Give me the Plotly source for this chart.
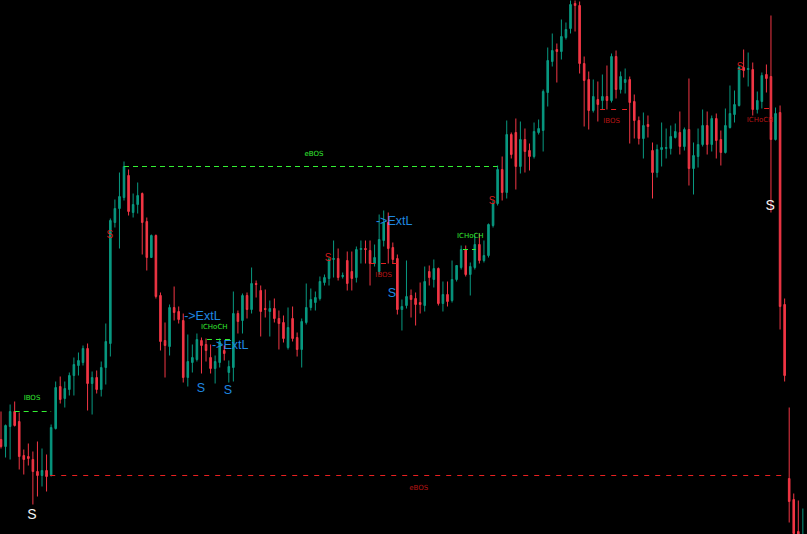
import plotly.graph_objects as go

# ---- candle data (index = bar number, prices in chart units) ----
opens = [95,88,108,123,113,79,78,75,63,59,64,59,106,148,136,145,159,169,172,186,
         151,157,145,167,191,312,326,337,359,322,330,341,313,277,299,239,194,188,227,223,
         214,157,172,175,194,190,177,166,172,184,162,167,221,214,239,225,251,244,226,223,
         226,216,212,187,216,197,185,212,227,232,236,252,256,275,276,258,274,263,257,285,
         286,284,271,263,294,312,287,276,225,229,239,236,232,229,263,255,266,231,240,234,
         255,267,285,260,267,290,274,279,309,331,365,342,400,402,368,395,384,378,402,404,
         442,473,485,483,497,506,531,529,471,455,424,435,434,438,434,478,445,452,455,433,
         414,396,410,384,362,385,386,386,397,402,388,405,366,378,390,409,390,416,395,382,
         407,420,429,467,465,465,425,433,460,458,395,422,230,56,35,3,-30]
highs = [123,110,130,133,122,85,91,83,93,86,80,110,153,158,153,162,177,182,189,191,
         163,164,173,211,316,335,362,373,365,341,352,342,317,300,300,242,212,230,248,228,
         221,200,190,201,197,196,190,179,196,189,174,243,224,241,242,267,254,249,245,234,
         236,224,219,227,228,202,216,251,246,243,258,260,277,294,286,262,283,283,288,294,
         294,294,290,320,324,322,292,280,235,274,245,242,252,268,269,275,267,253,253,274,
         269,289,289,272,299,301,294,311,334,369,378,414,402,416,413,406,391,412,415,445,
         487,501,491,515,512,534,534,533,478,463,455,453,460,469,481,484,463,466,458,440,
         418,422,419,392,390,412,406,409,411,423,407,456,392,406,425,423,419,421,404,426,
         449,444,469,485,482,472,443,462,470,519,427,429,236,127,41,34,26]
lows = [86,77,75,108,65,60,69,30,38,48,43,58,105,131,127,139,139,159,169,124,
        120,141,138,150,178,307,286,334,319,317,321,280,264,277,236,184,157,179,214,211,
        152,148,162,173,161,173,161,151,167,174,152,153,201,201,216,221,237,198,217,198,
        212,185,192,185,193,178,167,210,224,224,234,249,249,257,254,256,244,244,252,271,
        271,249,268,260,288,271,271,220,204,226,217,209,221,223,249,247,229,223,228,232,
        253,265,258,239,265,271,272,277,307,329,334,336,376,345,361,362,364,376,400,383,
        428,468,452,475,495,501,503,461,408,405,422,413,425,425,432,436,441,441,391,396,
        390,376,397,336,357,368,376,380,396,380,384,349,340,367,388,380,383,376,369,381,
        406,412,428,457,448,419,421,426,442,322,394,205,153,12,-5,-20,-35]
closes = [88,109,123,109,78,75,76,63,59,64,58,107,147,135,146,159,170,174,186,151,
          157,145,167,193,314,326,338,368,323,330,339,312,277,299,238,193,189,227,222,215,
          157,173,177,195,189,184,166,173,193,181,168,221,213,239,225,251,250,223,225,226,
          216,211,196,207,196,185,213,227,235,237,253,257,275,276,257,259,251,256,285,286,
          285,271,277,295,312,286,275,225,228,238,235,230,230,253,257,266,231,240,233,255,
          269,285,260,268,290,274,279,310,331,365,342,400,380,368,395,383,378,403,406,443,
          474,484,483,498,505,530,529,471,454,424,438,430,438,434,478,445,458,455,432,414,
          396,409,408,362,385,387,387,398,403,388,405,366,379,390,409,390,416,394,382,409,
          421,430,467,464,466,425,434,459,456,395,421,228,159,33,1,-11,-15]
bars = list(range(len(opens)))

# ---- structure levels (bar from, bar to, price) ----
green_lines = [(3, 11, 123), (27, 109, 368), (45.2, 50.7, 195), (101.4, 104.2, 285)]
red_lines = [(10.8, 172.5, 59), (81, 87, 271), (131.5, 137.4, 425), (167.5, 168.6, 426)]

green_labels = [("IBOS", 6.8, 136), ("eBOS", 68.7, 380), ("ICHoCH", 46.8, 207), ("ICHoCH", 103.0, 298)]
red_labels = [("eBOS", 91.7, 46), ("IBOS", 84.0, 259), ("IBOS", 134.0, 413), ("ICHoCH", 166.6, 414)]
extl_labels = [("->ExtL", 40.2, 218), ("->ExtL", 46.3, 189), ("->ExtL", 82.3, 313)]
blue_s = [(43.9, 146), (49.8, 144), (85.8, 241)]
white_s = [(6.8, 19), (168.8, 328)]
red_s = [(23.9, 299), (71.8, 276), (107.8, 333), (162.2, 467)]

TEAL = "#089981"
RED = "#f23645"

fig = go.Figure()

for x0, x1, p in green_lines:
    fig.add_trace(go.Scatter(x=[x0, x1], y=[p, p], mode="lines",
                             line=dict(color="#33f033", width=1, dash="5px,4px"),
                             hoverinfo="skip", showlegend=False))
for x0, x1, p in red_lines:
    fig.add_trace(go.Scatter(x=[x0, x1], y=[p, p], mode="lines",
                             line=dict(color="#e82020", width=1, dash="5px,6px"),
                             hoverinfo="skip", showlegend=False))

fig.add_trace(go.Scatter(x=[l[1] for l in green_labels], y=[l[2] for l in green_labels],
                         text=[l[0] for l in green_labels], mode="text", textposition="middle center",
                         textfont=dict(family="DejaVu Sans", size=7, color="#33e833"),
                         hoverinfo="skip", showlegend=False))
fig.add_trace(go.Scatter(x=[l[1] for l in red_labels], y=[l[2] for l in red_labels],
                         text=[l[0] for l in red_labels], mode="text", textposition="middle center",
                         textfont=dict(family="DejaVu Sans", size=7, color="#b81515"),
                         hoverinfo="skip", showlegend=False))
fig.add_trace(go.Scatter(x=[l[1] for l in extl_labels], y=[l[2] for l in extl_labels],
                         text=[l[0] for l in extl_labels], mode="text", textposition="middle right",
                         textfont=dict(family="Liberation Sans", size=12.5, color="#1f88e0"),
                         hoverinfo="skip", showlegend=False))
fig.add_trace(go.Scatter(x=[s[0] for s in blue_s], y=[s[1] for s in blue_s],
                         text=["S"] * len(blue_s), mode="text", textposition="middle center",
                         textfont=dict(family="Liberation Sans", size=12.5, color="#1f88e0"),
                         hoverinfo="skip", showlegend=False))
fig.add_trace(go.Scatter(x=[s[0] for s in white_s], y=[s[1] for s in white_s],
                         text=["S"] * len(white_s), mode="text", textposition="middle center",
                         textfont=dict(family="Liberation Sans", size=14, color="#f2f2f2"),
                         hoverinfo="skip", showlegend=False))
fig.add_trace(go.Scatter(x=[s[0] for s in red_s], y=[s[1] for s in red_s],
                         text=["S"] * len(red_s), mode="text", textposition="middle center",
                         textfont=dict(family="Liberation Sans", size=10, color="#d61c1c"),
                         hoverinfo="skip", showlegend=False))

fig.add_trace(go.Candlestick(
    x=bars, open=opens, high=highs, low=lows, close=closes,
    increasing=dict(line=dict(color=TEAL, width=1), fillcolor=TEAL),
    decreasing=dict(line=dict(color=RED, width=1), fillcolor=RED),
    whiskerwidth=0, showlegend=False))

fig.update_layout(
    width=807, height=534,
    margin=dict(l=0, r=0, t=0, b=0),
    paper_bgcolor="#000000", plot_bgcolor="#000000",
    boxgap=0.5,
    xaxis=dict(range=[-0.22, 176.91], visible=False, showgrid=False, zeroline=False,
               rangeslider=dict(visible=False)),
    yaxis=dict(range=[0.5, 534.5], visible=False, showgrid=False, zeroline=False),
)

fig.write_html(
    "out.html",
    config={"displayModeBar": False},
    post_script="document.body.style.margin='0';document.body.style.background='#000';"
                "document.body.style.overflow='hidden';",
)
